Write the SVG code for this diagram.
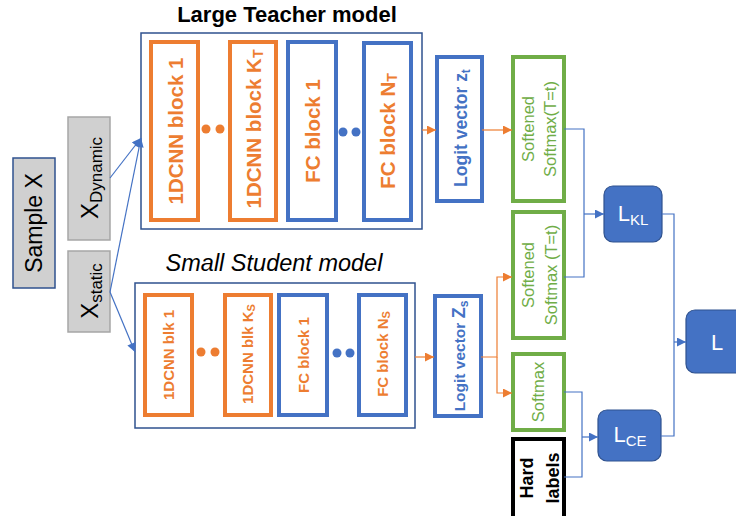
<svg xmlns="http://www.w3.org/2000/svg" width="736" height="516" viewBox="0 0 736 516">
<defs>
<style>
text{font-family:"Liberation Sans",Arial,sans-serif}
.frame{fill:#fff;stroke:#2f528f;stroke-width:1.5}
.org{fill:#fff;stroke:#ed7d31;stroke-width:4}
.blu{fill:#fff;stroke:#4472c4;stroke-width:4}
.grn{fill:#fff;stroke:#70ad47;stroke-width:4}
.blk{fill:#fff;stroke:#000;stroke-width:4}
.gray{fill:#d0d0d0;stroke:#a6a6a6;stroke-width:1.5}
.loss{fill:#4472c4;stroke:#2f528f;stroke-width:1.2}
.to{fill:#ed7d31;font-weight:bold;text-anchor:middle;dominant-baseline:central}
.tb{fill:#4472c4;font-weight:bold;text-anchor:middle;dominant-baseline:central}
.tg{fill:#70ad47;text-anchor:middle;dominant-baseline:central;font-size:16.5px}
.tk{fill:#000;font-weight:bold;text-anchor:middle;dominant-baseline:central;font-size:18px}
.tw{fill:#fff;text-anchor:middle;dominant-baseline:central;font-size:22px}
.tx{fill:#000;text-anchor:middle;dominant-baseline:central}
.cb{fill:none;stroke:#4472c4;stroke-width:1.2}
.co{fill:none;stroke:#ed7d31;stroke-width:1.2}
.dotO{fill:#ed7d31}
.dotB{fill:#4472c4}
</style>
<marker id="ab" viewBox="0 0 10 10" refX="10" refY="5" markerWidth="10" markerHeight="9" markerUnits="userSpaceOnUse" orient="auto"><path d="M0,0L10,5L0,10z" fill="#4472c4"/></marker>
<marker id="ao" viewBox="0 0 10 10" refX="10" refY="5" markerWidth="10" markerHeight="9" markerUnits="userSpaceOnUse" orient="auto"><path d="M0,0L10,5L0,10z" fill="#ed7d31"/></marker>
</defs>

<g id="sample-x">
<rect x="13" y="158" width="42" height="130" fill="#d0d0d0" stroke="#2f528f" stroke-width="1.5"/>
<text class="tx" font-size="23" transform="translate(34,223) rotate(-90)">Sample X</text>
</g>
<g id="x-dynamic">
<rect class="gray" x="68" y="117" width="42" height="123"/>
<text class="tx" font-size="24" transform="translate(89,178) rotate(-90)">X<tspan font-size="17" dy="7">Dynamic</tspan></text>
</g>
<g id="x-static">
<rect class="gray" x="68" y="251" width="42" height="81"/>
<text class="tx" font-size="24" transform="translate(89,291) rotate(-90)">X<tspan font-size="17" dy="7">static</tspan></text>
</g>

<g id="teacher">
<text x="287" y="22" font-size="22" font-weight="bold" text-anchor="middle" fill="#000">Large Teacher model</text>
<rect class="frame" x="141" y="33" width="281" height="196"/>
<g id="t-cnn1"><rect class="org" x="151" y="42" width="47" height="178"/><text class="to" font-size="20.5" transform="translate(175,131) rotate(-90)">1DCNN block 1</text></g>
<g id="t-dots1"><circle class="dotO" cx="206" cy="129" r="4.5"/><circle class="dotO" cx="220" cy="129" r="4.5"/></g>
<g id="t-cnnk"><rect class="org" x="230" y="42" width="46" height="178"/><text class="to" font-size="20.5" transform="translate(253,129) rotate(-90)">1DCNN block K<tspan font-size="14" dy="5">T</tspan></text></g>
<g id="t-fc1"><rect class="blu" x="288" y="42" width="48" height="178"/><text class="to" font-size="20.5" transform="translate(312,131) rotate(-90)">FC block 1</text></g>
<g id="t-dots2"><circle class="dotB" cx="343" cy="132" r="4.5"/><circle class="dotB" cx="356" cy="132" r="4.5"/></g>
<g id="t-fcn"><rect class="blu" x="364" y="43" width="47" height="177"/><text class="to" font-size="20.5" transform="translate(387,131) rotate(-90)">FC block N<tspan font-size="14" dy="5">T</tspan></text></g>
</g>

<g id="student">
<text x="274" y="271" font-size="23.5" font-style="italic" text-anchor="middle" fill="#000">Small Student model</text>
<rect class="frame" x="135" y="283" width="280" height="145"/>
<g id="s-cnn1"><rect class="org" x="145" y="295" width="47" height="120"/><text class="to" font-size="15" transform="translate(168.5,355) rotate(-90)">1DCNN blk 1</text></g>
<g id="s-dots1"><circle class="dotO" cx="201" cy="352" r="4.5"/><circle class="dotO" cx="215" cy="352" r="4.5"/></g>
<g id="s-cnnk"><rect class="org" x="225" y="295" width="46" height="120"/><text class="to" font-size="15" transform="translate(247,354) rotate(-90)">1DCNN blk K<tspan font-size="11" dy="4">S</tspan></text></g>
<g id="s-fc1"><rect class="blu" x="279" y="295" width="48" height="120"/><text class="to" font-size="15" transform="translate(303,355) rotate(-90)">FC block 1</text></g>
<g id="s-dots2"><circle class="dotB" cx="337" cy="353" r="4.5"/><circle class="dotB" cx="350" cy="353" r="4.5"/></g>
<g id="s-fcn"><rect class="blu" x="359" y="295" width="47" height="120"/><text class="to" font-size="15" transform="translate(382,354) rotate(-90)">FC block N<tspan font-size="11" dy="4">S</tspan></text></g>
</g>

<g id="logit-t"><rect class="blu" x="437" y="57" width="45" height="144"/><text class="tb" font-size="17.5" transform="translate(461,128) rotate(-90)">Logit vector z<tspan font-size="12" dy="5">t</tspan></text></g>
<g id="logit-s"><rect class="blu" x="435" y="296" width="46" height="120"/><text class="tb" font-size="15.5" transform="translate(459,356) rotate(-90)">Logit vector <tspan font-size="18">Z</tspan><tspan font-size="12" dy="5">s</tspan></text></g>

<g id="softened-t"><rect class="grn" x="513" y="57" width="51" height="144"/>
<text class="tg" transform="translate(528,129) rotate(-90)">Softened</text>
<text class="tg" transform="translate(550,129) rotate(-90)">Softmax(T=t)</text></g>
<g id="softened-s"><rect class="grn" x="513" y="212" width="51" height="126"/>
<text class="tg" transform="translate(528,275) rotate(-90)">Softened</text>
<text class="tg" transform="translate(551,275) rotate(-90)">Softmax (T=t)</text></g>
<g id="softmax"><rect class="grn" x="513" y="354" width="51" height="76"/>
<text class="tg" transform="translate(538,392) rotate(-90)">Softmax</text></g>
<g id="hard-labels"><rect class="blk" x="513" y="439" width="51" height="82"/>
<text class="tk" transform="translate(527,478) rotate(-90)">Hard</text>
<text class="tk" transform="translate(553,478) rotate(-90)">labels</text></g>

<g id="l-kl"><rect class="loss" x="604" y="186" width="58" height="56" rx="9"/><text class="tw" x="633" y="213">L<tspan font-size="15" dy="6">KL</tspan></text></g>
<g id="l-ce"><rect class="loss" x="598" y="410" width="63" height="51" rx="9"/><text class="tw" x="630" y="434">L<tspan font-size="15" dy="6">CE</tspan></text></g>
<g id="l-total"><rect class="loss" x="686" y="310" width="64" height="63" rx="9"/><text class="tw" x="717" y="342">L</text></g>

<g id="connectors">
<path class="cb" d="M110,178L141,138" marker-end="url(#ab)"/>
<path class="cb" d="M110,292L141,138" marker-end="url(#ab)"/>
<path class="cb" d="M110,292L135,352" marker-end="url(#ab)"/>
<path class="co" d="M422,130H436" marker-end="url(#ao)"/>
<path class="co" d="M482,130H512" marker-end="url(#ao)"/>
<path class="co" d="M415,357H434" marker-end="url(#ao)"/>
<path class="co" d="M481,357H497V277H512" marker-end="url(#ao)"/>
<path class="co" d="M497,357V393H512" marker-end="url(#ao)"/>
<path class="cb" d="M564,129H584V277H564"/>
<path class="cb" d="M584,214H604" marker-end="url(#ab)"/>
<path class="cb" d="M564,392H582V477H564"/>
<path class="cb" d="M582,437H598" marker-end="url(#ab)"/>
<path class="cb" d="M662,214H674V436H661"/>
<path class="cb" d="M674,342H686" marker-end="url(#ab)"/>
</g>
</svg>
